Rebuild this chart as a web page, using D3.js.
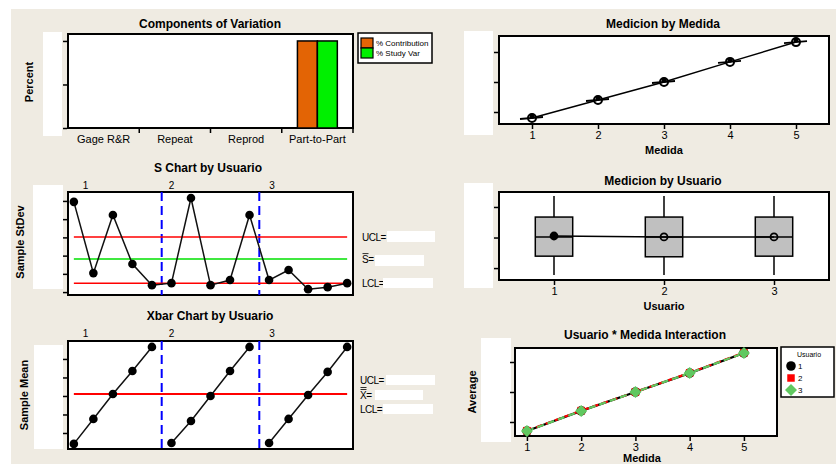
<!DOCTYPE html>
<html>
<head>
<meta charset="utf-8">
<style>
    body { margin: 0; background: #fff; }
    svg text { font-family: "Liberation Sans", Arial, sans-serif; fill: #000; }
    .title { font-size: 12px; font-weight: bold; }
    .axlabel { font-size: 11px; font-weight: bold; }
    .tick text { font-size: 11px; font-family: "Liberation Sans", Arial, sans-serif; }
    .frame { fill: #fff; stroke: #000; stroke-width: 2px; }
    .ctl { font-size: 10px; letter-spacing: -0.5px; }
</style>
</head>
<body>
<script src="https://cdn.jsdelivr.net/npm/d3@7/dist/d3.min.js"></script>
<script>

    // ---- data (tick labels are blanked in the original) ----
    var compCats = ["Gage R&R", "Repeat", "Reprod", "Part-to-Part"];
    var pctContribution = [0, 0, 0, 100];
    var pctStudyVar = [0, 0, 0, 100];

    var subgroups = [1, 2, 3, 4, 5, 6, 7, 8, 9, 10, 11, 12, 13, 14, 15];
    var usuarioGroups = ["1", "2", "3"];
    var groupBreaks = [5.5, 10.5];
    var groupLabelPos = [1.6, 6.0, 11.15];
    var sampleStDev = [4.95, 1.04, 4.23, 1.54, 0.38, 0.49, 5.16, 0.38, 0.66, 4.23, 0.66, 1.21, 0.16, 0.27, 0.49];
    var sLimits = {ucl: 3.02, center: 1.81, lcl: 0.49};
    var sampleMean = [0.41, 1.76, 3.11, 4.35, 5.65, 0.46, 1.65, 3.0, 4.35, 5.65, 0.46, 1.76, 3.05, 4.3, 5.65];
    var xbarCenter = 3.1;

    var medidas = [1, 2, 3, 4, 5];
    var medidaMeans = [18, 24, 30, 36.7, 43.3];

    var usuarios = [1, 2, 3];
    var usuarioMin = [17.7, 17.7, 17.7];
    var usuarioQ1 = [23.9, 23.7, 23.9];
    var usuarioMedian = [30.2, 30.2, 30.2];
    var usuarioQ3 = [36.7, 36.7, 36.7];
    var usuarioMax = [43.6, 43.6, 43.6];
    var usuarioMean = [30.5, 30.2, 30.2];

    var interUsuario1 = [17.0, 23.7, 30.0, 36.3, 43.0];
    var interUsuario2 = [17.1, 23.8, 30.0, 36.4, 43.1];
    var interUsuario3 = [17.0, 23.7, 30.0, 36.3, 43.0];

    var bg = "#EFEBE2";
    var orange = "#E36405";
    var brightGreen = "#00F000";

    var svg = d3.select("body").append("svg")
        .attr("width", 836)
        .attr("height", 464);

    svg.append("rect").attr("x", 11).attr("y", 9).attr("width", 825).attr("height", 455).attr("fill", bg);

    function whiteBox(x, y, w, h) {
        svg.append("rect").attr("x", x).attr("y", y).attr("width", w).attr("height", h).attr("fill", "#fff");
    }

    function frame(x0, y0, x1, y1) {
        svg.append("rect").attr("class", "frame")
            .attr("x", x0).attr("y", y0).attr("width", x1 - x0).attr("height", y1 - y0);
    }

    function title(text, x, y) {
        svg.append("text").attr("class", "title").attr("x", x).attr("y", y)
            .attr("text-anchor", "middle").text(text);
    }

    function yLabel(text, x, y) {
        svg.append("text").attr("class", "axlabel")
            .attr("transform", "translate(" + x + "," + y + ") rotate(-90)")
            .attr("text-anchor", "middle").text(text);
    }

    function leftTicks(y, x0, values) {
        var g = svg.append("g").attr("transform", "translate(" + x0 + ",0)")
            .call(d3.axisLeft(y).tickValues(values).tickSize(4).tickFormat(""));
        g.select(".domain").remove();
        g.selectAll(".tick line").attr("stroke-width", 1.5);
    }

    function bottomAxis(x, y0, values, fmt) {
        var g = svg.append("g").attr("transform", "translate(0," + y0 + ")")
            .call(d3.axisBottom(x).tickValues(values).tickSize(4).tickPadding(2).tickFormat(fmt));
        g.select(".domain").remove();
        g.selectAll(".tick line").attr("stroke-width", 1.5);
        return g;
    }

    // ================= Components of Variation =================
    (function () {
        var x = d3.scaleBand().domain(compCats).range([68, 353]);
        var y = d3.scaleLinear().domain([0, 108]).range([128, 34]);
        title("Components of Variation", 210, 28);
        whiteBox(43, 32, 19, 104);
        frame(68, 34, 353, 128);
        leftTicks(y, 67, [0, 50, 100]);
        var g = bottomAxis(x, 129, compCats, function (d) { return d; });
        g.selectAll(".tick line").attr("transform", "translate(" + x.bandwidth() / 2 + ",0)");
        yLabel("Percent", 33, 82);

        var bw = x.bandwidth() * 0.28;
        var rows = compCats.map(function (c, i) {
            return {cat: c, contrib: pctContribution[i], study: pctStudyVar[i]};
        });
        var bars = svg.append("g");
        bars.selectAll("rect.c").data(rows.filter(function (d) { return d.contrib > 0; }))
            .enter().append("rect")
            .attr("x", function (d) { return x(d.cat) + x.bandwidth() / 2 - bw; })
            .attr("y", function (d) { return y(d.contrib); })
            .attr("width", bw)
            .attr("height", function (d) { return y(0) - y(d.contrib); })
            .attr("fill", orange).attr("stroke", "#000").attr("stroke-width", 1.5);
        bars.selectAll("rect.s").data(rows.filter(function (d) { return d.study > 0; }))
            .enter().append("rect")
            .attr("x", function (d) { return x(d.cat) + x.bandwidth() / 2; })
            .attr("y", function (d) { return y(d.study); })
            .attr("width", bw)
            .attr("height", function (d) { return y(0) - y(d.study); })
            .attr("fill", brightGreen).attr("stroke", "#000").attr("stroke-width", 1.5);

        // legend
        svg.append("rect").attr("x", 358).attr("y", 33).attr("width", 74).attr("height", 30)
            .attr("fill", "#fff").attr("stroke", "#000").attr("stroke-width", 1.5);
        [["% Contribution", orange], ["% Study Var", brightGreen]].forEach(function (d, i) {
            svg.append("rect").attr("x", 361).attr("y", 38 + i * 10).attr("width", 12).attr("height", 10)
                .attr("fill", d[1]).attr("stroke", "#000").attr("stroke-width", 1.2);
            svg.append("text").attr("x", 376).attr("y", 46 + i * 10).attr("font-size", "8px")
                .attr("fill", "#333").text(d[0]);
        });
    })();

    // ================= S Chart by Usuario =================
    var xs = d3.scaleLinear().domain([0.7, 15.3]).range([68, 353]);

    function groupDecor(y0, y1, labelY) {
        groupBreaks.forEach(function (b) {
            svg.append("line").attr("x1", xs(b)).attr("x2", xs(b)).attr("y1", y0).attr("y2", y1)
                .attr("stroke", "#0000FF").attr("stroke-width", 2).attr("stroke-dasharray", "9,5");
        });
        usuarioGroups.forEach(function (u, i) {
            svg.append("text").attr("x", xs(groupLabelPos[i])).attr("y", labelY)
                .attr("text-anchor", "middle").attr("font-size", "10px").text(u);
        });
    }

    function ctlLabel(text, x, y, bar) {
        svg.append("text").attr("class", "ctl").attr("x", x).attr("y", y + 3.5).text(text);
        for (var k = 0; k < bar; k++) {
            svg.append("line").attr("x1", x + 0.5).attr("x2", x + 6.5).attr("y1", y - 5.5 - k * 2)
                .attr("y2", y - 5.5 - k * 2).attr("stroke", "#000").attr("stroke-width", 0.8);
        }
    }

    (function () {
        var y = d3.scaleLinear().domain([-0.16, 5.49]).range([295, 192]);
        title("S Chart by Usuario", 208, 172);
        whiteBox(33, 185, 30, 104);
        frame(68, 192, 353, 295);
        leftTicks(y, 67, [0, 1, 2, 3, 4, 5]);
        yLabel("Sample StDev", 24, 242);
        groupDecor(192, 295, 189);

        var lim = [[sLimits.ucl, "#FF0000"], [sLimits.center, "#00E000"], [sLimits.lcl, "#FF0000"]];
        lim.forEach(function (d) {
            svg.append("line").attr("x1", xs(1)).attr("x2", xs(15)).attr("y1", y(d[0])).attr("y2", y(d[0]))
                .attr("stroke", d[1]).attr("stroke-width", 1.5);
        });

        var line = d3.line().x(function (d, i) { return xs(subgroups[i]); }).y(function (d) { return y(d); });
        svg.append("path").datum(sampleStDev).attr("d", line).attr("fill", "none")
            .attr("stroke", "#111").attr("stroke-width", 1.5);
        svg.append("g").selectAll("circle").data(sampleStDev).enter().append("circle")
            .attr("cx", function (d, i) { return xs(subgroups[i]); })
            .attr("cy", function (d) { return y(d); })
            .attr("r", 4.3).attr("fill", "#000");

        ctlLabel("UCL=", 362, y(sLimits.ucl), 0);
        whiteBox(387, 231, 48, 11);
        ctlLabel("S=", 362, y(sLimits.center), 1);
        whiteBox(375, 255, 49, 11);
        ctlLabel("LCL=", 362, y(sLimits.lcl), 0);
        whiteBox(383, 278, 50, 10);
    })();

    // ================= Xbar Chart by Usuario =================
    (function () {
        var y = d3.scaleLinear().domain([0.135, 5.97]).range([449, 341]);
        title("Xbar Chart by Usuario", 210, 320);
        whiteBox(34, 345, 29, 104);
        frame(68, 341, 353, 449);
        leftTicks(y, 67, [1, 2, 3, 4, 5]);
        yLabel("Sample Mean", 28, 395);
        groupDecor(341, 449, 337);

        svg.append("line").attr("x1", xs(1)).attr("x2", xs(15)).attr("y1", y(xbarCenter)).attr("y2", y(xbarCenter))
            .attr("stroke", "#FF0000").attr("stroke-width", 2);

        [[0, 5], [5, 10], [10, 15]].forEach(function (r) {
            svg.append("path").datum(sampleMean.slice(r[0], r[1]))
                .attr("d", d3.line().x(function (d, i) { return xs(subgroups[r[0] + i]); }).y(function (d) { return y(d); }))
                .attr("fill", "none").attr("stroke", "#111").attr("stroke-width", 1.5);
        });
        svg.append("g").selectAll("circle").data(sampleMean).enter().append("circle")
            .attr("cx", function (d, i) { return xs(subgroups[i]); })
            .attr("cy", function (d) { return y(d); })
            .attr("r", 4.3).attr("fill", "#000");

        ctlLabel("UCL=", 360, 380, 0);
        whiteBox(386, 375, 49, 10);
        ctlLabel("X=", 360, 395, 2);
        whiteBox(375, 390, 48, 10);
        ctlLabel("LCL=", 360, 409, 0);
        whiteBox(383, 404, 50, 10);
    })();

    // ================= Medicion by Medida =================
    (function () {
        var x = d3.scaleLinear().domain([0.5, 5.5]).range([499, 829]);
        var y = d3.scaleLinear().domain([16, 45.33]).range([124, 36]);
        title("Medicion by Medida", 663, 28);
        whiteBox(464, 31, 29, 104);
        frame(499, 36, 829, 124);
        leftTicks(y, 498, [20, 30, 40]);
        bottomAxis(x, 125, medidas, d3.format("d"));
        svg.append("text").attr("class", "axlabel").attr("x", 664).attr("y", 154)
            .attr("text-anchor", "middle").text("Medida");

        var line = d3.line().x(function (d, i) { return x(medidas[i]); }).y(function (d) { return y(d); });
        svg.append("path").datum(medidaMeans).attr("d", line).attr("fill", "none")
            .attr("stroke", "#000").attr("stroke-width", 1.5);
        var g = svg.append("g");
        medidaMeans.forEach(function (m, i) {
            g.append("line").attr("x1", x(medidas[i]) - 12).attr("x2", x(medidas[i]) + 11)
                .attr("y1", y(m) + 1).attr("y2", y(m) - 1).attr("stroke", "#000").attr("stroke-width", 1.8);
            g.append("circle").attr("cx", x(medidas[i])).attr("cy", y(m) - 2).attr("r", 2.5).attr("fill", "#000");
            g.append("circle").attr("cx", x(medidas[i])).attr("cy", y(m)).attr("r", 4)
                .attr("fill", "none").attr("stroke", "#000").attr("stroke-width", 2);
        });
    })();

    // ================= Medicion by Usuario =================
    (function () {
        var x = d3.scaleLinear().domain([0.5, 3.5]).range([499, 829]);
        var y = d3.scaleLinear().domain([16.1, 44.9]).range([280, 192]);
        title("Medicion by Usuario", 663, 185);
        whiteBox(464, 183, 29, 105);
        frame(499, 192, 829, 280);
        leftTicks(y, 498, [20, 30, 40]);
        bottomAxis(x, 281, usuarios, d3.format("d"));
        svg.append("text").attr("class", "axlabel").attr("x", 664).attr("y", 310)
            .attr("text-anchor", "middle").text("Usuario");

        var bw = x(1.17) - x(1);
        var rows = usuarios.map(function (u, i) {
            return {u: u, min: usuarioMin[i], q1: usuarioQ1[i], med: usuarioMedian[i],
                q3: usuarioQ3[i], max: usuarioMax[i], mean: usuarioMean[i]};
        });
        var g = svg.append("g");
        var box = g.selectAll("g.box").data(rows).enter().append("g");
        box.append("line").attr("x1", function (d) { return x(d.u); }).attr("x2", function (d) { return x(d.u); })
            .attr("y1", function (d) { return y(d.max); }).attr("y2", function (d) { return y(d.min); })
            .attr("stroke", "#000").attr("stroke-width", 1.5);
        box.append("rect").attr("x", function (d) { return x(d.u) - bw; })
            .attr("y", function (d) { return y(d.q3); })
            .attr("width", bw * 2)
            .attr("height", function (d) { return y(d.q1) - y(d.q3); })
            .attr("fill", "#C0C0C0").attr("stroke", "#000").attr("stroke-width", 1.5);
        box.append("line").attr("x1", function (d) { return x(d.u) - bw; }).attr("x2", function (d) { return x(d.u) + bw; })
            .attr("y1", function (d) { return y(d.med); }).attr("y2", function (d) { return y(d.med); })
            .attr("stroke", "#000").attr("stroke-width", 1.5);

        var line = d3.line().x(function (d) { return x(d.u); }).y(function (d) { return y(d.mean); });
        g.append("path").datum(rows).attr("d", line).attr("fill", "none")
            .attr("stroke", "#000").attr("stroke-width", 1.5);
        box.append("circle").attr("cx", function (d) { return x(d.u); }).attr("cy", function (d) { return y(d.mean); })
            .attr("r", 3.5).attr("fill", function (d, i) { return i === 0 ? "#000" : "none"; })
            .attr("stroke", "#000").attr("stroke-width", 1.8);
    })();

    // ================= Usuario * Medida Interaction =================
    (function () {
        var x = d3.scaleLinear().domain([0.78, 5.61]).range([515, 777]);
        var y = d3.scaleLinear().domain([15.33, 44.67]).range([436, 348]);
        title("Usuario * Medida Interaction", 645, 339);
        whiteBox(481, 338, 30, 104);
        frame(515, 348, 777, 436);
        leftTicks(y, 514, [20, 30, 40]);
        bottomAxis(x, 437, medidas, d3.format("d"));
        svg.append("text").attr("class", "axlabel").attr("x", 642).attr("y", 462)
            .attr("text-anchor", "middle").text("Medida");
        yLabel("Average", 476, 392);

        var series = [
            {name: "1", values: interUsuario1, color: "#000", dash: null, sym: d3.symbolCircle, size: 72, rot: 0},
            {name: "2", values: interUsuario2, color: "#FF0000", dash: "6,4", sym: d3.symbolSquare, size: 56, rot: 0},
            {name: "3", values: interUsuario3, color: "#60C860", dash: "7,4", sym: d3.symbolSquare, size: 72, rot: 45}
        ];
        var line = d3.line().x(function (d, i) { return x(medidas[i]); }).y(function (d) { return y(d); });
        series.forEach(function (s) {
            svg.append("path").datum(s.values).attr("d", line).attr("fill", "none")
                .attr("stroke", s.color).attr("stroke-width", 2.2).attr("stroke-dasharray", s.dash);
        });
        series.forEach(function (s) {
            svg.append("g").selectAll("path").data(s.values).enter().append("path")
                .attr("transform", function (d, i) {
                    return "translate(" + x(medidas[i]) + "," + y(d) + ") rotate(" + s.rot + ")";
                })
                .attr("d", d3.symbol().type(s.sym).size(s.size)).attr("fill", s.color);
        });

        // legend
        svg.append("rect").attr("x", 781).attr("y", 347).attr("width", 53).attr("height", 50)
            .attr("fill", "#fff").attr("stroke", "#000").attr("stroke-width", 1.5);
        svg.append("text").attr("x", 809).attr("y", 357).attr("text-anchor", "middle")
            .attr("font-size", "7px").attr("fill", "#333").text("Usuario");
        series.forEach(function (s, i) {
            svg.append("path").attr("transform", "translate(791," + (366 + i * 12) + ") rotate(" + s.rot + ")")
                .attr("d", d3.symbol().type(s.sym).size(s.size)).attr("fill", s.color);
            svg.append("text").attr("x", 798).attr("y", 369 + i * 12).attr("font-size", "8px")
                .attr("fill", "#333").text(s.name);
        });
    })();

</script>
</body>
</html>
